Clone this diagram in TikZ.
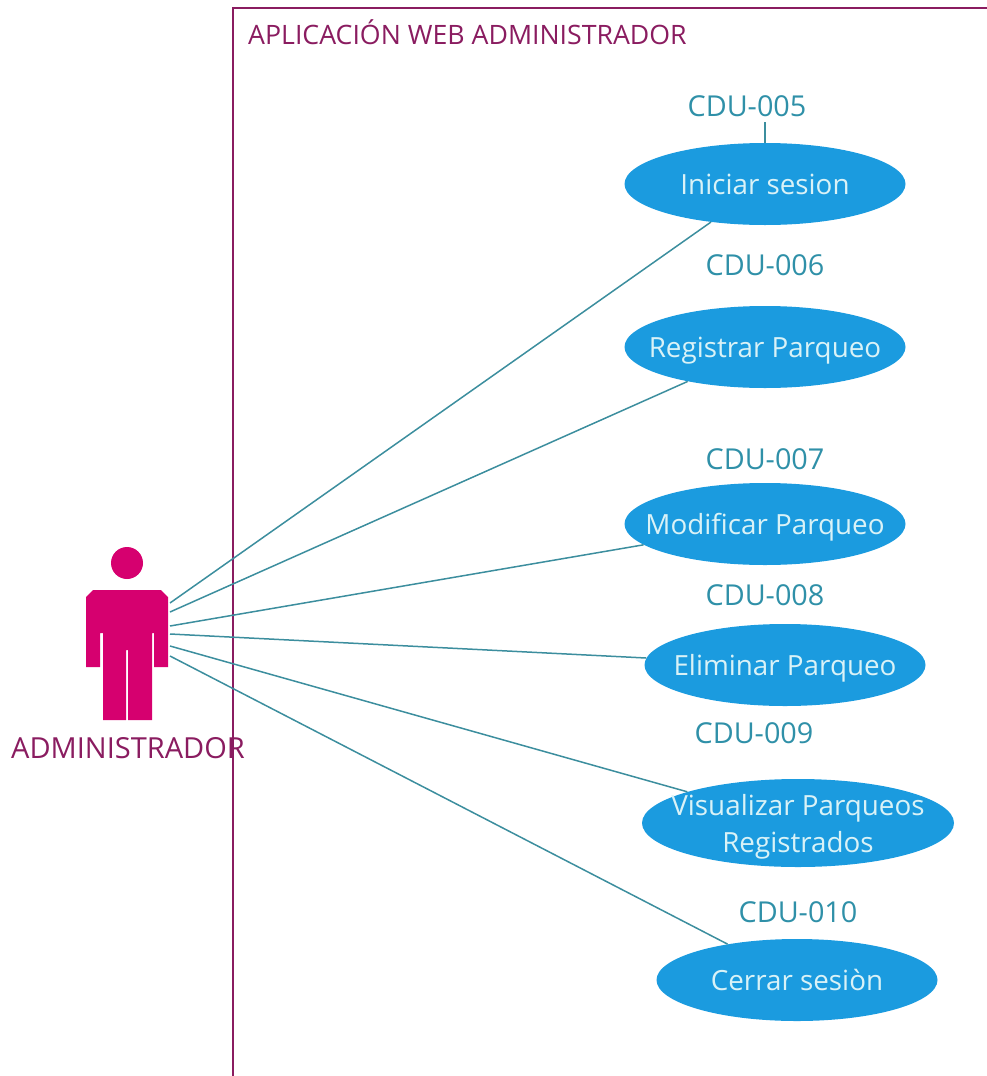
\documentclass[tikz,border=0pt]{standalone}
\usepackage{fontspec}
\setmainfont{Open Sans}
\definecolor{ucblue}{HTML}{1B9BDF}
\definecolor{uctext}{HTML}{D9F2F7}
\definecolor{cdu}{HTML}{2F90A8}
\definecolor{link}{HTML}{3C8E9E}
\definecolor{actor}{HTML}{D6006F}
\definecolor{frame}{HTML}{8A1C60}
\usetikzlibrary{shapes.geometric}
\tikzset{
  usecase/.style={ellipse,fill=ucblue,text=uctext,inner xsep=-70pt,inner ysep=-25pt,minimum width=281pt,minimum height=82pt,align=center,font=\fontsize{27.8}{37}\selectfont},
  oneline/.style={text height=21pt,text depth=0pt},
  cdulabel/.style={text=cdu,inner sep=0pt,font=\fontsize{28.8}{32}\selectfont},
  framelabel/.style={text=frame,inner sep=0pt,font=\fontsize{26.7}{30}\selectfont},
  linkline/.style={draw=link,line width=1.5pt},
  frameline/.style={draw=frame,line width=1.6pt},
  actorshape/.style={fill=actor,draw=none},
}
\begin{document}
\begin{tikzpicture}[x=1pt,y=-1pt]
\useasboundingbox (0,0) rectangle (987,1076);
% frame
\draw[frameline] (233,1076) -- (233,8) -- (987,8);
\node[framelabel,anchor=west] (title) at (248,32) {APLICACIÓN WEB ADMINISTRADOR};
% actor
\fill[actorshape] (127,563) circle (16);
\fill[actorshape] (93,590) -- (161,590) -- (168,597) -- (168,667) -- (154,667) -- (154,633) -- (152,633) -- (152,720) -- (128,720) -- (128,650) -- (126,650) -- (126,720) -- (103,720) -- (103,633) -- (100,633) -- (100,667) -- (86,667) -- (86,597) -- cycle;
\node[framelabel,anchor=center,font=\fontsize{29}{32}\selectfont] (admin) at (128,748) {ADMINISTRADOR};
\coordinate (a1) at (170,603);
\coordinate (a2) at (170,612);
\coordinate (a3) at (170,626);
\coordinate (a4) at (170,634);
\coordinate (a5) at (170,646);
\coordinate (a6) at (170,656);
% use cases
\node[usecase,oneline] (u1) at (765,184) {Iniciar sesion};
\node[usecase,oneline] (u2) at (765,347) {Registrar Parqueo};
\node[usecase,oneline] (u3) at (765,524) {Modificar Parqueo};
\node[usecase,oneline] (u4) at (785,665) {Eliminar Parqueo};
\node[usecase,minimum width=312pt,minimum height=88pt] (u5) at (798,823) {\rule{0pt}{29pt}Visualizar Parqueos\\Registrados};
\node[usecase,oneline] (u6) at (797,980) {Cerrar sesiòn};
% labels
\node[cdulabel] (c1) at (747,106) {CDU-005};
\node[cdulabel] (c2) at (765,265) {CDU-006};
\node[cdulabel] (c3) at (765,459) {CDU-007};
\node[cdulabel] (c4) at (765,595) {CDU-008};
\node[cdulabel] (c5) at (754,733) {CDU-009};
\node[cdulabel] (c6) at (798,912) {CDU-010};
% connectors
\coordinate (c1foot) at (765,122);
\draw[linkline] (c1foot) -- (u1);
\draw[linkline] (a1) -- (u1);
\draw[linkline] (a2) -- (u2);
\draw[linkline] (a3) -- (u3);
\draw[linkline] (a4) -- (u4);
\draw[linkline] (a5) -- (u5);
\draw[linkline] (a6) -- (u6);
\end{tikzpicture}
\end{document}
